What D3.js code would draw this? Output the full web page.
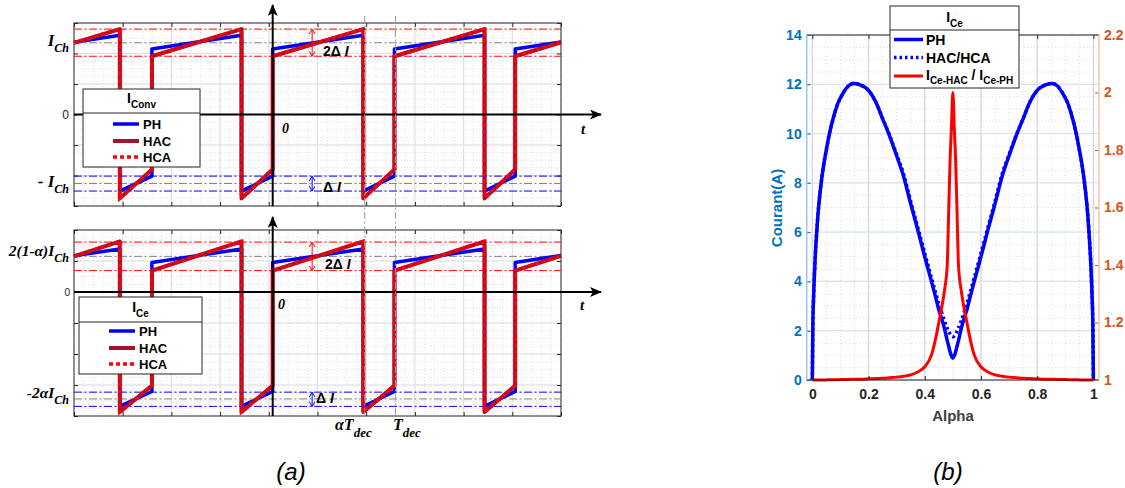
<!DOCTYPE html>
<html><head><meta charset="utf-8">
<script src="https://cdn.jsdelivr.net/npm/d3@7"></script>
<style>body{margin:0;background:#fff}svg{display:block}</style>
</head><body><svg id="c" width="1125" height="488"></svg>
<script>
// ================= DATA : panel (a) =================
const waveT   = [0,0.94,0.94,1.60,1.60,3.44,3.44,4.08,4.08,5.94,5.94,6.58,6.58,8.43,8.43,9.06,9.06,10];
const convPH  = [2.37,2.60,-2.51,-2.02,2.15,2.60,-2.51,-2.02,2.15,2.60,-2.51,-2.02,2.15,2.60,-2.51,-2.02,2.15,2.38];
const convHAC = [2.35,2.80,-2.75,-1.80,1.91,2.80,-2.75,-1.80,1.91,2.80,-2.75,-1.80,1.91,2.80,-2.75,-1.80,1.91,2.37];
const convHCA = [2.35,2.80,-2.75,-1.80,1.91,2.80,-2.75,-1.80,1.91,2.80,-2.75,-1.80,1.91,2.80,-2.75,-1.80,1.91,2.37];
const cePH    = [1.17,1.39,-3.69,-3.21,0.95,1.39,-3.69,-3.21,0.95,1.39,-3.69,-3.21,0.95,1.39,-3.69,-3.21,0.95,1.18];
const ceHAC   = [1.15,1.63,-3.87,-3.02,0.69,1.63,-3.87,-3.02,0.69,1.63,-3.87,-3.02,0.69,1.63,-3.87,-3.02,0.69,1.17];
const ceHCA   = [1.15,1.63,-3.87,-3.02,0.69,1.63,-3.87,-3.02,0.69,1.63,-3.87,-3.02,0.69,1.63,-3.87,-3.02,0.69,1.17];
const convRefRed = [2.80,1.91], convRefBlue = [-2.02,-2.51], convRefGray = [2.35,-2.26];
const ceRefRed   = [1.61,0.69], ceRefBlue   = [-3.23,-3.69], ceRefGray   = [1.15,-3.45];
const decMarks = [5.97,6.60];
const yAxisT = 4.08;
const deltaArrowT = 4.89;
const legendNamesA = ["PH","HAC","HCA"];

// ================= DATA : panel (b) =================
const alpha = [0,0.002,0.005,0.01,0.015,0.02,0.03,0.04,0.05,0.06,0.075,0.09,0.11,0.13,0.146,0.17,0.2,0.225,0.25,0.275,0.3,0.325,0.35,0.375,0.4,0.425,0.44,0.45,0.46,0.47,0.48,0.485,0.49,0.495,0.5,
  0.505,0.51,0.515,0.52,0.53,0.54,0.55,0.56,0.575,0.6,0.625,0.65,0.675,0.7,0.725,0.75,0.775,0.8,0.83,0.854,0.87,0.89,0.91,0.925,0.94,0.95,0.96,0.97,0.98,0.985,0.99,0.995,0.998,1];
const icePH = [0,2.3,3.5,4.9,5.9,6.7,7.85,8.7,9.35,9.95,10.65,11.2,11.65,11.95,12.03,11.98,11.75,11.3,10.6,9.9,9.1,8.25,7.15,6.1,5.0,3.95,3.3,2.85,2.5,2.1,1.6,1.38,1.15,0.98,0.88,
  0.98,1.15,1.38,1.6,2.1,2.5,2.85,3.3,3.95,5.0,6.1,7.15,8.25,9.1,9.9,10.6,11.3,11.75,11.98,12.03,11.95,11.65,11.2,10.65,9.95,9.35,8.7,7.85,6.7,5.9,4.9,3.5,2.3,0];
const iceHAC = [0,2.3,3.5,4.9,5.9,6.7,7.85,8.7,9.35,9.95,10.65,11.2,11.65,11.95,12.03,11.98,11.75,11.3,10.62,9.93,9.15,8.35,7.25,6.2,5.15,4.1,3.5,3.1,2.75,2.4,2.1,1.98,1.87,1.79,1.76,
  1.79,1.87,1.98,2.1,2.4,2.75,3.1,3.5,4.1,5.15,6.2,7.25,8.35,9.15,9.93,10.62,11.3,11.75,11.98,12.03,11.95,11.65,11.2,10.65,9.95,9.35,8.7,7.85,6.7,5.9,4.9,3.5,2.3,0];
const ratio = [1,1,1,1,1,1,1,1,1,1.001,1.001,1.001,1.002,1.002,1.003,1.003,1.004,1.005,1.006,1.008,1.010,1.013,1.018,1.028,1.046,1.09,1.15,1.2,1.25,1.31,1.40,1.58,1.76,1.88,2.0,
  1.88,1.76,1.58,1.40,1.31,1.25,1.2,1.15,1.09,1.046,1.028,1.018,1.013,1.010,1.008,1.006,1.005,1.004,1.003,1.003,1.002,1.002,1.001,1.001,1.001,1,1,1,1,1,1,1,1,1];
const xTicksB = [0,0.2,0.4,0.6,0.8,1];
const yTicksL = [0,2,4,6,8,10,12,14];
const yTicksR = [1,1.2,1.4,1.6,1.8,2,2.2];

// ================= DRAWING =================
const svg = d3.select("#c");
svg.append("rect").attr("width",1125).attr("height",488).attr("fill","#fff");
const SANS = "'Liberation Sans', Arial, sans-serif";
const SERIF = "'Liberation Serif', 'DejaVu Serif', serif";
const C_PH="#0000FF", C_HAC="#A2142F", C_HCA="#FF0000";
const defs = svg.append("defs");
defs.append("marker").attr("id","ahBlack").attr("markerUnits","userSpaceOnUse")
  .attr("markerWidth",14).attr("markerHeight",12).attr("refX",11).attr("refY",5).attr("orient","auto")
  .append("path").attr("d","M0,0 L12,5 L0,10 L3,5 Z").attr("fill","#000");
[["ahRed","#FF0000"],["ahBlue","#0000FF"]].forEach(([id,c])=>{
  defs.append("marker").attr("id",id).attr("markerUnits","userSpaceOnUse")
   .attr("markerWidth",8).attr("markerHeight",8).attr("refX",5).attr("refY",3).attr("orient","auto-start-reverse")
   .append("path").attr("d","M0,0 L5,3 L0,6").attr("fill","none").attr("stroke",c).attr("stroke-width",1);
});

const xA = d3.scaleLinear().domain([0,10]).range([74,561]);
const yTop = d3.scaleLinear().domain([-3,3]).range([206,23]);
const yBot = d3.scaleLinear().domain([-4,2]).range([416,230]);

function panelA(y, ph, hac, hca, refRed, refBlue, refGray){
  const g = svg.append("g");
  const [x0,x1] = xA.range(), [yb,yt] = y.range();
  const d0 = y.domain();
  d3.range(0,10.001,0.2).forEach(v=>g.append("line").attr("x1",xA(v)).attr("x2",xA(v)).attr("y1",yt).attr("y2",yb)
     .attr("stroke","#d9d9d9").attr("stroke-width",0.8).attr("stroke-dasharray","1,2"));
  d3.range(d0[0],d0[1]+0.001,0.25).forEach(v=>g.append("line").attr("x1",x0).attr("x2",x1).attr("y1",y(v)).attr("y2",y(v))
     .attr("stroke","#d9d9d9").attr("stroke-width",0.8).attr("stroke-dasharray","1,2"));
  d3.range(1,10).forEach(v=>g.append("line").attr("x1",xA(v)).attr("x2",xA(v)).attr("y1",yt).attr("y2",yb)
     .attr("stroke","#dedede").attr("stroke-width",1));
  d3.range(d0[0]+1,d0[1]).forEach(v=>g.append("line").attr("x1",x0).attr("x2",x1).attr("y1",y(v)).attr("y2",y(v))
     .attr("stroke","#dedede").attr("stroke-width",1));
  const ta = (ax,tr)=>g.append("g").attr("transform",tr).call(ax).call(s=>{s.select(".domain").remove();s.selectAll("text").remove();s.selectAll("line").attr("stroke","#262626");});
  ta(d3.axisBottom(xA).tickValues(d3.range(0,11)).tickSizeInner(-4).tickSizeOuter(0),`translate(0,${yb})`);
  ta(d3.axisTop(xA).tickValues(d3.range(0,11)).tickSizeInner(-4).tickSizeOuter(0),`translate(0,${yt})`);
  ta(d3.axisLeft(y).tickValues(d3.range(d0[0],d0[1]+1)).tickSizeInner(-4).tickSizeOuter(0),`translate(${x0},0)`);
  ta(d3.axisRight(y).tickValues(d3.range(d0[0],d0[1]+1)).tickSizeInner(-4).tickSizeOuter(0),`translate(${x1},0)`);
  g.append("rect").attr("x",x0).attr("y",yt).attr("width",x1-x0).attr("height",yb-yt)
   .attr("fill","none").attr("stroke","#262626").attr("stroke-width",1);
  const ref=(vals,c)=>vals.forEach(v=>g.append("line").attr("x1",x0).attr("x2",x1).attr("y1",y(v)).attr("y2",y(v))
     .attr("stroke",c).attr("stroke-width",1).attr("stroke-dasharray","8,2.5,2,2.5"));
  ref(refGray,"#7f7f7f"); ref(refRed,"#FF0000"); ref(refBlue,"#0000FF");
  const line = d3.line().x((d,i)=>xA(waveT[i])).y(d=>y(d));
  g.append("path").attr("d",line(ph)).attr("fill","none").attr("stroke",C_PH).attr("stroke-width",3.5).attr("stroke-linejoin","round");
  g.append("path").attr("d",line(hac)).attr("fill","none").attr("stroke",C_HAC).attr("stroke-width",4).attr("stroke-linejoin","round");
  g.append("path").attr("d",line(hca)).attr("fill","none").attr("stroke",C_HCA).attr("stroke-width",3.5).attr("stroke-dasharray","4,3");
  g.append("line").attr("x1",xA(deltaArrowT)).attr("x2",xA(deltaArrowT)).attr("y1",y(refRed[0])).attr("y2",y(refRed[1]))
   .attr("stroke","#FF0000").attr("stroke-width",1).attr("marker-start","url(#ahRed)").attr("marker-end","url(#ahRed)");
  g.append("line").attr("x1",xA(deltaArrowT)).attr("x2",xA(deltaArrowT)).attr("y1",y(refBlue[0])).attr("y2",y(refBlue[1]))
   .attr("stroke","#0000FF").attr("stroke-width",1).attr("marker-start","url(#ahBlue)").attr("marker-end","url(#ahBlue)");
  g.append("line").attr("x1",x0).attr("x2",601).attr("y1",y(0)).attr("y2",y(0)).attr("stroke","#000").attr("stroke-width",2).attr("marker-end","url(#ahBlack)");
  return g;
}
panelA(yTop, convPH, convHAC, convHCA, convRefRed, convRefBlue, convRefGray);
panelA(yBot, cePH, ceHAC, ceHCA, ceRefRed, ceRefBlue, ceRefGray);
svg.append("line").attr("x1",xA(yAxisT)).attr("x2",xA(yAxisT)).attr("y1",206).attr("y2",5).attr("stroke","#000").attr("stroke-width",2).attr("marker-end","url(#ahBlack)");
svg.append("line").attr("x1",xA(yAxisT)).attr("x2",xA(yAxisT)).attr("y1",416).attr("y2",217).attr("stroke","#000").attr("stroke-width",2).attr("marker-end","url(#ahBlack)");
decMarks.forEach(v=>svg.append("line").attr("x1",xA(v)).attr("x2",xA(v)).attr("y1",16).attr("y2",416)
  .attr("stroke","#9a9a9a").attr("stroke-width",1).attr("stroke-dasharray","7,2.5,2,2.5"));

function mathText(x,y,parts,anchor,size,subSize,family,style,weight,fill){
  const t = svg.append("text").attr("x",x).attr("y",y).attr("text-anchor",anchor||"start")
    .attr("font-family",family||SERIF).attr("font-style",style||"italic").attr("font-weight",weight||"bold")
    .attr("font-size",size).attr("fill",fill||"#000");
  let down=false;
  parts.forEach(p=>{
    const s=t.append("tspan").text(p.t);
    if(p.sub){ s.attr("font-size",subSize).attr("dy",down?0:subSize*0.5); down=true; }
    else if(down){ s.attr("dy",-subSize*0.5); down=false; }
    if(p.style) s.attr("font-style",p.style);
  });
  return t;
}
mathText(69,46,[{t:"I"},{t:"Ch",sub:true}],"end",17,12);
mathText(69,187,[{t:"- I"},{t:"Ch",sub:true}],"end",17,12);
mathText(69,256,[{t:"2(1-α)I"},{t:"Ch",sub:true}],"end",15.5,12);
mathText(69,398,[{t:"-2αI"},{t:"Ch",sub:true}],"end",15.5,12);
svg.append("text").attr("x",69).attr("y",yTop(0)).attr("dy","0.35em").attr("text-anchor","end").attr("font-family",SANS).attr("font-size",12).attr("fill","#262626").text("0");
svg.append("text").attr("x",70).attr("y",yBot(0)).attr("dy","0.35em").attr("text-anchor","end").attr("font-family",SANS).attr("font-size",10).attr("fill","#262626").text("0");
mathText(282,133,[{t:"0"}],"start",14,10);
mathText(278,309,[{t:"0"}],"start",14,10);
mathText(581,134,[{t:"t"}],"start",15,10);
mathText(580,310,[{t:"t"}],"start",15,10);
mathText(323,56,[{t:"2Δ ",style:"normal"},{t:"I"}],"start",14,10,SANS);
mathText(323,192,[{t:"Δ ",style:"normal"},{t:"I"}],"start",14,10,SANS);
mathText(325,269,[{t:"2Δ ",style:"normal"},{t:"I"}],"start",14,10,SANS);
mathText(316,403,[{t:"Δ ",style:"normal"},{t:"I"}],"start",14,10,SANS);
mathText(335,430,[{t:"αT"},{t:"dec",sub:true}],"start",16,13);
mathText(393,430,[{t:"T"},{t:"dec",sub:true}],"start",16,13);

function legendA(x,y,w,h,sepY,title,sub,rows){
  const g=svg.append("g");
  g.append("rect").attr("x",x).attr("y",y).attr("width",w).attr("height",h).attr("fill","#fff").attr("stroke","#262626").attr("stroke-width",1);
  g.append("line").attr("x1",x).attr("x2",x+w).attr("y1",sepY).attr("y2",sepY).attr("stroke","#262626");
  const t=g.append("text").attr("x",x+w/2).attr("y",sepY-10).attr("text-anchor","middle").attr("font-family",SANS).attr("font-weight","bold").attr("font-size",14);
  t.append("tspan").text(title);
  t.append("tspan").text(sub).attr("font-size",10).attr("dy",5);
  const styles=[{c:C_PH,w:3.5,d:null},{c:C_HAC,w:4,d:null},{c:C_HCA,w:3.5,d:"4,3"}];
  legendNamesA.forEach((n,i)=>{
    const yy=rows[i];
    g.append("line").attr("x1",x+30).attr("x2",x+56).attr("y1",yy).attr("y2",yy).attr("stroke",styles[i].c).attr("stroke-width",styles[i].w).attr("stroke-dasharray",styles[i].d);
    g.append("text").attr("x",x+60).attr("y",yy).attr("dy","0.36em").attr("font-family",SANS).attr("font-weight","bold").attr("font-size",13).text(n);
  });
}
legendA(83,89,117,78,113,"I","Conv",[124,141,157]);
legendA(79,297,123,77,322,"I","Ce",[331,348,364]);

// ================= panel (b) =================
const xB = d3.scaleLinear().domain([-0.02,1.02]).range([806.7,1099]);
const yL = d3.scaleLinear().domain([0,14]).range([380,35]);
const yR = d3.scaleLinear().domain([1,2.2]).range([380,35]);
const gb = svg.append("g");
const BX0=806.7,BX1=1099,BY0=35,BY1=380;
d3.range(0,1.0001,0.05).forEach(v=>gb.append("line").attr("x1",xB(v)).attr("x2",xB(v)).attr("y1",BY0).attr("y2",BY1).attr("stroke","#cfcfcf").attr("stroke-width",0.8).attr("stroke-dasharray","1,2.5"));
d3.range(0,14.001,0.5).forEach(v=>gb.append("line").attr("x1",BX0).attr("x2",BX1).attr("y1",yL(v)).attr("y2",yL(v)).attr("stroke","#cfcfcf").attr("stroke-width",0.8).attr("stroke-dasharray","1,2.5"));
xTicksB.forEach(v=>gb.append("line").attr("x1",xB(v)).attr("x2",xB(v)).attr("y1",BY0).attr("y2",BY1).attr("stroke","#d6d6d6").attr("stroke-width",1.2));
yTicksL.forEach(v=>gb.append("line").attr("x1",BX0).attr("x2",BX1).attr("y1",yL(v)).attr("y2",yL(v)).attr("stroke","#d3e4f3").attr("stroke-width",1.2));
const lPH = d3.line().x((d,i)=>xB(alpha[i])).y(d=>yL(d)).curve(d3.curveMonotoneX);
const lR = d3.line().x((d,i)=>xB(alpha[i])).y(d=>yR(d)).curve(d3.curveMonotoneX);
gb.append("path").attr("d",lPH(icePH)).attr("fill","none").attr("stroke",C_PH).attr("stroke-width",3.5);
gb.append("path").attr("d",lPH(iceHAC)).attr("fill","none").attr("stroke",C_PH).attr("stroke-width",3.5).attr("stroke-dasharray","2.5,3");
gb.append("path").attr("d",lR(ratio)).attr("fill","none").attr("stroke","#FF0000").attr("stroke-width",3);
const axB = gb.append("g").attr("transform",`translate(0,${BY1})`).call(d3.axisBottom(xB).tickValues(xTicksB).tickFormat(d3.format("~g")).tickSizeInner(-4).tickSizeOuter(0).tickPadding(9));
axB.select(".domain").remove();
axB.selectAll("line").attr("stroke","#262626");
axB.selectAll("text").attr("font-family",SANS).attr("font-weight","bold").attr("font-size",14).attr("fill","#262626");
const axT = gb.append("g").attr("transform",`translate(0,${BY0})`).call(d3.axisTop(xB).tickValues(xTicksB).tickFormat("").tickSizeInner(-4).tickSizeOuter(0));
axT.select(".domain").remove(); axT.selectAll("line").attr("stroke","#262626");
gb.append("line").attr("x1",BX0).attr("x2",BX1).attr("y1",BY1).attr("y2",BY1).attr("stroke","#262626").attr("stroke-width",1.2);
gb.append("line").attr("x1",BX0).attr("x2",BX1).attr("y1",BY0).attr("y2",BY0).attr("stroke","#262626").attr("stroke-width",1.2);
const axL = gb.append("g").attr("transform",`translate(${BX0},0)`).call(d3.axisLeft(yL).tickValues(yTicksL).tickSizeInner(-4).tickSizeOuter(0).tickPadding(5));
axL.select(".domain").remove();
axL.selectAll("line").attr("stroke","#0072BD");
axL.selectAll("text").attr("font-family",SANS).attr("font-weight","bold").attr("font-size",14).attr("fill","#0072BD");
gb.append("line").attr("x1",BX0).attr("x2",BX0).attr("y1",BY0).attr("y2",BY1).attr("stroke","#9cc6e6").attr("stroke-width",1.5);
const axR = gb.append("g").attr("transform",`translate(${BX1},0)`).call(d3.axisRight(yR).tickValues(yTicksR).tickFormat(d3.format("~g")).tickSizeInner(-4).tickSizeOuter(0).tickPadding(5));
axR.select(".domain").remove();
axR.selectAll("line").attr("stroke","#D95319");
axR.selectAll("text").attr("font-family",SANS).attr("font-weight","bold").attr("font-size",14).attr("fill","#D95319");
gb.append("line").attr("x1",BX1).attr("x2",BX1).attr("y1",BY0).attr("y2",BY1).attr("stroke","#f2c6b0").attr("stroke-width",1.5);
svg.append("text").attr("transform","translate(782,208) rotate(-90)").attr("text-anchor","middle").attr("font-family",SANS).attr("font-weight","bold").attr("font-size",15).attr("fill","#0072BD").text("Courant(A)");
svg.append("text").attr("x",953).attr("y",421).attr("text-anchor","middle").attr("font-family",SANS).attr("font-weight","bold").attr("font-size",15).attr("fill","#404040").text("Alpha");
const lg = svg.append("g");
lg.append("rect").attr("x",890).attr("y",6).attr("width",129).attr("height",82).attr("fill","#fff").attr("stroke","#262626");
lg.append("line").attr("x1",890).attr("x2",1019).attr("y1",30).attr("y2",30).attr("stroke","#262626");
const lt = lg.append("text").attr("x",954.5).attr("y",22).attr("text-anchor","middle").attr("font-family",SANS).attr("font-weight","bold").attr("font-size",14);
lt.append("tspan").text("I"); lt.append("tspan").text("Ce").attr("font-size",10).attr("dy",5);
const lgRows=[{y:39.5,c:C_PH,d:null,w:3.5},{y:57.5,c:C_PH,d:"2.5,3",w:3.5},{y:76,c:"#FF0000",d:null,w:3}];
lgRows.forEach(r=>lg.append("line").attr("x1",894).attr("x2",923).attr("y1",r.y).attr("y2",r.y).attr("stroke",r.c).attr("stroke-width",r.w).attr("stroke-dasharray",r.d));
lg.append("text").attr("x",926).attr("y",39.5).attr("dy","0.36em").attr("font-family",SANS).attr("font-weight","bold").attr("font-size",14).text("PH");
lg.append("text").attr("x",926).attr("y",57.5).attr("dy","0.36em").attr("font-family",SANS).attr("font-weight","bold").attr("font-size",14).text("HAC/HCA");
const rt = lg.append("text").attr("x",926).attr("y",80).attr("font-family",SANS).attr("font-weight","bold").attr("font-size",14);
rt.append("tspan").text("I"); rt.append("tspan").text("Ce-HAC").attr("font-size",10).attr("dy",4);
rt.append("tspan").text(" / I").attr("dy",-4); rt.append("tspan").text("Ce-PH").attr("font-size",10).attr("dy",4);

svg.append("text").attr("x",291).attr("y",480).attr("text-anchor","middle").attr("font-family",SANS).attr("font-style","italic").attr("font-size",24).text("(a)");
svg.append("text").attr("x",948).attr("y",480).attr("text-anchor","middle").attr("font-family",SANS).attr("font-style","italic").attr("font-size",24).text("(b)");
</script></body></html>
